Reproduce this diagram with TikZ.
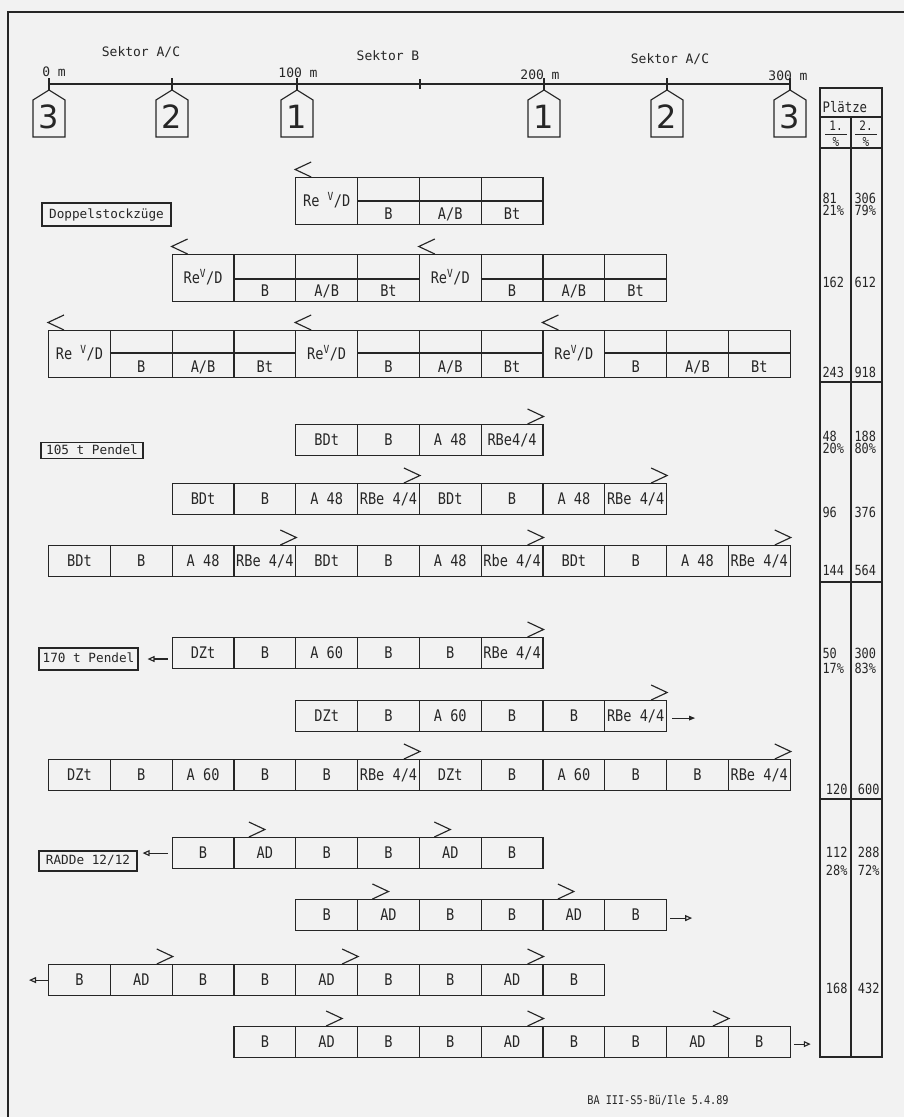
\documentclass[tikz,border=0pt]{standalone}
\usepackage{fontspec}
\setmonofont{DejaVu Sans Mono}
\newfontfamily\plotfont[FakeStretch=0.85]{DejaVu Sans Mono}
\newfontfamily\tagfont{DejaVu Sans}
\usetikzlibrary{arrows.meta}

\def\xo{48}
\def\cw{61.8}

\tikzset{
  car/.style={draw, minimum width=61.8pt, minimum height=31pt, inner sep=0pt,
    anchor=north west, text height=11.5pt, text depth=0pt,
    font=\plotfont\fontsize{16}{16}\selectfont},
  dcar/.style={car, minimum height=47pt},
  dlab/.style={inner sep=0pt, text height=11.5pt, text depth=0pt,
    font=\plotfont\fontsize{16}{16}\selectfont},
  gruppe/.style={draw, inner sep=0pt, text height=9.5pt, text depth=2.5pt,
    font=\ttfamily\fontsize{12.7}{13}\selectfont},
  mass/.style={inner sep=0pt, text height=9.5pt, text depth=0pt,
    font=\ttfamily\fontsize{13}{13}\selectfont},
  zahl/.style={inner sep=0pt, anchor=base west,
    font=\plotfont\fontsize{14}{14}\selectfont},
  zahlr/.style={zahl, anchor=base east},
  kopf/.style={inner sep=0pt, anchor=base,
    font=\plotfont\fontsize{13}{13}\selectfont},
  spitze rechts/.pic={\draw (-16,-15) -- (0,-7.5) -- (-16,0);},
  spitze links/.pic={\draw (16,-15) -- (0,-7.5) -- (16,0);},
  zu/.style={-{Triangle[open,length=7pt,width=6pt]}},
  zuv/.style={-{Triangle[length=6pt,width=4.5pt]}},
}

\begin{document}
\begin{tikzpicture}[x=1pt,y=-1pt,line width=1.15pt,black!85]
\path[use as bounding box, fill=black!5] (0,0) rectangle (904,1117);

% ===== Rahmen =====
\draw (8,1117) -- (8,12) -- (904,12);

% ===== Massstab und Sektoren =====
\node[mass] (sekAC1) at (141,52) {Sektor A/C};
\node[mass] (sekB)   at (388,56) {Sektor B};
\node[mass] (sekAC2) at (670,59) {Sektor A/C};

\draw (49,84) -- (790,84);
\draw (420,79) -- (420,89);
\foreach \x/\n in {49/3,172/2,297/1,544/1,667/2,790/3}{
  \draw (\x,78) -- (\x,90);
  \draw ({\x-16},137) -- ({\x-16},100) -- (\x,90) -- ({\x+16},100) -- ({\x+16},137) -- cycle;
  \node[inner sep=0pt, font=\tagfont\fontsize{32}{32}\selectfont] (tag\x) at (\x,117) {\n};
}
\node[mass] (m0)   at (54,72)  {0 m};
\node[mass] (m100) at (298,73) {100 m};
\node[mass] (m200) at (540,75) {200 m};
\node[mass] (m300) at (788,76) {300 m};

% ===== Doppelstockzüge =====
\node[gruppe, minimum width=129pt, minimum height=23pt] (doppel) at (106.5,214.5) {Doppelstockzüge};

% Zug 1
\node[dcar] (d1-0) at ({\xo+4*\cw},177) {Re \textsuperscript{V}/D};
\pic at (d1-0.north west) {spitze links};
\foreach \lab [count=\i] in {B,A/B,Bt}{
  \node[dcar] (d1-0-\i) at ({\xo+(4+\i)*\cw},177) {};
  \draw ([yshift=-24pt]d1-0-\i.north west) -- ([yshift=-24pt]d1-0-\i.north east);
  \node[dlab] (d1-0-\i-t) at ([yshift=11pt]d1-0-\i.south) {\lab};
}

% Zug 2
\foreach \u/\s in {0/2,1/6}{
  \node[dcar] (d2-\u) at ({\xo+\s*\cw},254) {Re\textsuperscript{V}/D};
  \pic at (d2-\u.north west) {spitze links};
  \foreach \lab [count=\i] in {B,A/B,Bt}{
    \node[dcar] (d2-\u-\i) at ({\xo+(\s+\i)*\cw},254) {};
    \draw ([yshift=-25pt]d2-\u-\i.north west) -- ([yshift=-25pt]d2-\u-\i.north east);
    \node[dlab] (d2-\u-\i-t) at ([yshift=11pt]d2-\u-\i.south) {\lab};
  }
}

% Zug 3
\foreach \u/\s in {0/0,1/4,2/8}{
  \node[dcar] (d3-\u) at ({\xo+\s*\cw},330) {Re\ifnum\u=0\ \fi\textsuperscript{V}/D};
  \pic at (d3-\u.north west) {spitze links};
  \foreach \lab [count=\i] in {B,A/B,Bt}{
    \node[dcar] (d3-\u-\i) at ({\xo+(\s+\i)*\cw},330) {};
    \draw ([yshift=-23pt]d3-\u-\i.north west) -- ([yshift=-23pt]d3-\u-\i.north east);
    \node[dlab] (d3-\u-\i-t) at ([yshift=11pt]d3-\u-\i.south) {\lab};
  }
}

% ===== 105 t Pendel =====
\node[gruppe, minimum width=102pt, minimum height=16pt] (pendel105) at (92,450.5) {105 t Pendel};

\foreach \lab [count=\i] in {BDt,B,A 48,RBe4/4}
  \node[car] (p1-\i) at ({\xo+(3+\i)*\cw},424) {\lab};
\pic at (p1-4.north east) {spitze rechts};

\foreach \lab [count=\i] in {BDt,B,A 48,RBe 4/4,BDt,B,A 48,RBe 4/4}
  \node[car] (p2-\i) at ({\xo+(1+\i)*\cw},483) {\lab};
\pic at (p2-4.north east) {spitze rechts};
\pic at (p2-8.north east) {spitze rechts};

\foreach \lab [count=\i] in {BDt,B,A 48,RBe 4/4,BDt,B,A 48,Rbe 4/4,BDt,B,A 48,RBe 4/4}
  \node[car] (p3-\i) at ({\xo+(\i-1)*\cw},545) {\lab};
\foreach \k in {4,8,12}
  \pic at (p3-\k.north east) {spitze rechts};

% ===== 170 t Pendel =====
\node[gruppe, minimum width=99pt, minimum height=22pt] (pendel170) at (88.5,659) {170 t Pendel};

\foreach \lab [count=\i] in {DZt,B,A 60,B,B,RBe 4/4}
  \node[car] (t1-\i) at ({\xo+(1+\i)*\cw},637) {\lab};
\pic at (t1-6.north east) {spitze rechts};
\draw[zu] ([xshift=-4pt]pendel170.east -| t1-1.west) -- ([xshift=9pt]pendel170.east);

\foreach \lab [count=\i] in {DZt,B,A 60,B,B,RBe 4/4}
  \node[car] (t2-\i) at ({\xo+(3+\i)*\cw},700) {\lab};
\pic at (t2-6.north east) {spitze rechts};
\coordinate (t2ende) at ([xshift=28pt,yshift=-2pt]t2-6.east);
\draw[zuv] ([xshift=5pt,yshift=-2pt]t2-6.east) -- (t2ende);

\foreach \lab [count=\i] in {DZt,B,A 60,B,B,RBe 4/4,DZt,B,A 60,B,B,RBe 4/4}
  \node[car] (t3-\i) at ({\xo+(\i-1)*\cw},759) {\lab};
\pic at (t3-6.north east) {spitze rechts};
\pic at (t3-12.north east) {spitze rechts};

% ===== RADDe 12/12 =====
\node[gruppe, minimum width=98pt, minimum height=20pt] (radde) at (88,861) {RADDe 12/12};

\foreach \lab [count=\i] in {B,AD,B,B,AD,B}
  \node[car] (r1-\i) at ({\xo+(1+\i)*\cw},837) {\lab};
\pic at (r1-2.north) {spitze rechts};
\pic at (r1-5.north) {spitze rechts};
\draw[zu] ([xshift=-4pt]r1-1.west) -- ([xshift=5pt]radde.east |- r1-1.west);

\foreach \lab [count=\i] in {B,AD,B,B,AD,B}
  \node[car] (r2-\i) at ({\xo+(3+\i)*\cw},899) {\lab};
\pic at (r2-2.north) {spitze rechts};
\pic at (r2-5.north) {spitze rechts};
\coordinate (r2ende) at ([xshift=25pt,yshift=-3pt]r2-6.east);
\draw[zu] ([xshift=3pt,yshift=-3pt]r2-6.east) -- (r2ende);

\foreach \lab [count=\i] in {B,AD,B,B,AD,B,B,AD,B}
  \node[car] (r3-\i) at ({\xo+(\i-1)*\cw},964) {\lab};
\foreach \k in {2,5,8}
  \pic at (r3-\k.north east) {spitze rechts};
\coordinate (r3ende) at ([xshift=-19pt]r3-1.west);
\draw[zu] (r3-1.west) -- (r3ende);

\foreach \lab [count=\i] in {B,AD,B,B,AD,B,B,AD,B}
  \node[car] (r4-\i) at ({\xo+(2+\i)*\cw},1026) {\lab};
\pic at ([xshift=-16pt]r4-2.north east) {spitze rechts};
\pic at (r4-5.north east) {spitze rechts};
\pic at (r4-8.north east) {spitze rechts};
\coordinate (r4ende) at ([xshift=20pt,yshift=-2pt]r4-9.east);
\draw[zu] ([xshift=3pt,yshift=-2pt]r4-9.east) -- (r4ende);

% ===== Plätze =====
\draw (820,88) rectangle (882,1057);
\draw (820,117) -- (882,117);
\draw (820,148) -- (882,148);
\draw (851,117) -- (851,1057);
\foreach \y in {382,582,799}
  \draw (820,\y) -- (882,\y);
\node[zahl, font=\plotfont\fontsize{14.5}{14.5}\selectfont] (plaetze) at (822,112) {Plätze};
\node[kopf] (k1) at (836,130) {1.};
\node[kopf] (k1p) at (836,146) {\%};
\draw[line width=0.8pt] (825,134) -- (847,134);
\node[kopf] (k2) at (866,130) {2.};
\node[kopf] (k2p) at (866,146) {\%};
\draw[line width=0.8pt] (855,134) -- (877,134);

\node[zahl] (a1) at (822,203) {81};   \node[zahl] (a1p) at (822,215) {21\%};
\node[zahl] (b1) at (854,203) {306};  \node[zahl] (b1p) at (854,215) {79\%};
\node[zahl] (a2) at (822,287) {162};  \node[zahl] (b2) at (854,287) {612};
\node[zahl] (a3) at (822,377) {243};  \node[zahl] (b3) at (854,377) {918};
\node[zahl] (a4) at (822,441) {48};   \node[zahl] (a4p) at (822,453) {20\%};
\node[zahl] (b4) at (854,441) {188};  \node[zahl] (b4p) at (854,453) {80\%};
\node[zahl] (a5) at (822,517) {96};   \node[zahl] (b5) at (854,517) {376};
\node[zahl] (a6) at (822,575) {144};  \node[zahl] (b6) at (854,575) {564};
\node[zahl] (a7) at (822,658) {50};   \node[zahl] (a7p) at (822,673) {17\%};
\node[zahl] (b7) at (854,658) {300};  \node[zahl] (b7p) at (854,673) {83\%};
\node[zahlr] (a8) at (848,794) {120}; \node[zahlr] (b8) at (880,794) {600};
\node[zahlr] (a9) at (848,857) {112}; \node[zahlr] (a9p) at (848,875) {28\%};
\node[zahlr] (b9) at (880,857) {288}; \node[zahlr] (b9p) at (880,875) {72\%};
\node[zahlr] (a10) at (848,993) {168}; \node[zahlr] (b10) at (880,993) {432};

% ===== Kennung =====
\node[inner sep=0pt, font=\plotfont\fontsize{12}{12}\selectfont] (kennung) at (658,1100) {BA III-S5-Bü/Ile 5.4.89};
\end{tikzpicture}
\end{document}
